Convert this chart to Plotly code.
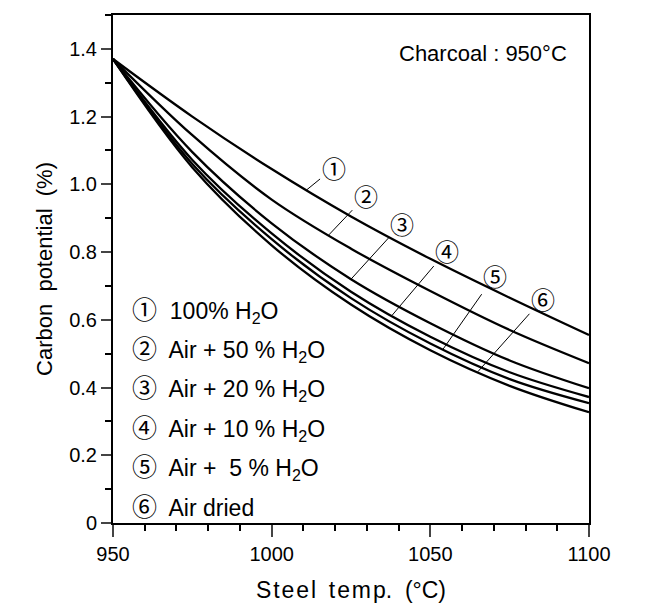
import numpy as np
import plotly.graph_objects as go

# ---------------- data ----------------
temps = [950, 975, 1000, 1025, 1050, 1075, 1100]
c1 = [1.37, 1.200, 1.045, 0.905, 0.780, 0.665, 0.555]
c2 = [1.37, 1.145, 0.955, 0.810, 0.685, 0.570, 0.472]
c3 = [1.37, 1.095, 0.885, 0.720, 0.590, 0.480, 0.398]
c4 = [1.37, 1.072, 0.855, 0.683, 0.550, 0.445, 0.372]
c5 = [1.37, 1.060, 0.838, 0.664, 0.530, 0.425, 0.354]
c6 = [1.37, 1.050, 0.820, 0.645, 0.510, 0.405, 0.327]
series = [c1, c2, c3, c4, c5, c6]
marks = ["①", "②", "③", "④", "⑤", "⑥"]
legend_texts = ["100% H<sub>2</sub>O", "Air + 50 % H<sub>2</sub>O", "Air + 20 % H<sub>2</sub>O",
                "Air + 10 % H<sub>2</sub>O", "Air +  5 % H<sub>2</sub>O", "Air dried"]
# temperatures where the label leader lines touch each curve
touch_t = [1011, 1018, 1025, 1038, 1054, 1065]
x_ticks = [950, 1000, 1050, 1100]
y_ticks = [0, 0.2, 0.4, 0.6, 0.8, 1.0, 1.2, 1.4]
y_ticktext = ["0", "0.2", "0.4", "0.6", "0.8", "1.0", "1.2", "1.4"]

FONT = "Liberation Sans, DejaVu Sans, Noto Sans CJK JP"
CIRC = "Noto Sans CJK JP"

fig = go.Figure()
for s in series:
    fig.add_trace(go.Scatter(x=temps, y=s, mode="lines",
                             line=dict(color="black", width=2.3, shape="spline", smoothing=1.0),
                             showlegend=False, hoverinfo="skip"))

# leader labels
offsets = [(27, -22), (37, -39), (51, -56), (55, -65), (52, -74), (65, -73)]
for m, s, t, (ax, ay) in zip(marks, series, touch_t, offsets):
    yv = float(np.interp(t, temps, s))
    fig.add_annotation(x=t, y=yv, xref="x", yref="y", text=m, showarrow=True, arrowhead=0,
                       arrowwidth=1, arrowcolor="black", ax=ax, ay=ay, standoff=0,
                       font=dict(family=CIRC, size=24, color="black"))

# legend block
for i, (m, txt) in enumerate(zip(marks, legend_texts)):
    fig.add_annotation(x=0.035, y=0.423 - i * 0.0775, xref="paper", yref="paper", xanchor="left", yanchor="middle",
                       text=f'<span style="font-family:{CIRC};font-size:25px">{m}</span>  ' + txt,
                       showarrow=False,
                       font=dict(family=FONT, size=23, color="black"))

fig.add_annotation(x=0.957, y=0.925, xref="paper", yref="paper", xanchor="right", yanchor="middle",
                   text="Charcoal : 950°C", showarrow=False,
                   font=dict(family=FONT, size=22, color="black"))

fig.update_layout(
    width=666, height=610,
    margin=dict(l=113, r=77, t=15, b=87),
    plot_bgcolor="white", paper_bgcolor="white",
    font=dict(family=FONT, size=19, color="black"),
)
fig.update_xaxes(range=[950, 1100], tickvals=x_ticks, ticks="outside", ticklen=12, tickwidth=1.5,
                 minor=dict(dtick=10, ticks="outside", ticklen=6, tickwidth=1.5, tickcolor="black"),
                 showline=True, mirror=True, linewidth=2, linecolor="black", showgrid=False, zeroline=False,
                 tickfont=dict(size=20),
                 title=dict(text="S\u200at\u200ae\u200ae\u200al  t\u200ae\u200am\u200ap.  (°C)", font=dict(size=23), standoff=18))
fig.update_yaxes(range=[0, 1.5], tickvals=y_ticks, ticktext=y_ticktext, ticks="outside", ticklen=10, tickwidth=1.5,
                 minor=dict(dtick=0.1, ticks="outside", ticklen=6, tickwidth=1.5, tickcolor="black"),
                 showline=True, mirror=True, linewidth=2, linecolor="black", showgrid=False, zeroline=False,
                 tickfont=dict(size=20), title=dict(text="Carbon  potential  (%)", font=dict(size=22), standoff=10))

fig.write_html("out.html")
